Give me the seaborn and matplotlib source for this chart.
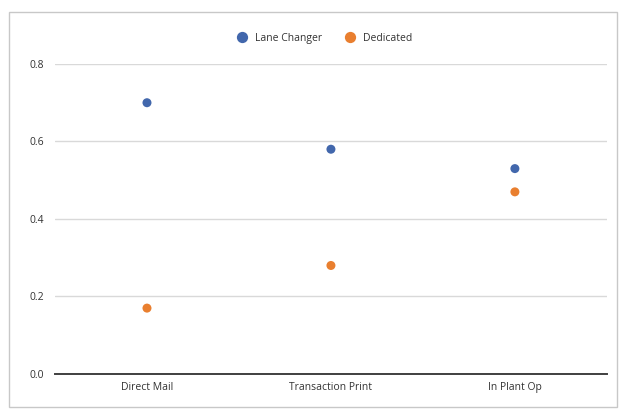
import matplotlib
matplotlib.use("Agg")
import matplotlib.pyplot as plt
from matplotlib.patches import Rectangle
import seaborn as sns
import pandas as pd

categories = ["Direct Mail", "Transaction Print", "In Plant Op"]
lane_changer = [0.70, 0.58, 0.53]
dedicated = [0.17, 0.28, 0.47]
series_names = ["Lane Changer", "Dedicated"]
y_ticks = [0.0, 0.2, 0.4, 0.6, 0.8]

df = pd.DataFrame({
    "category": categories * 2,
    "value": lane_changer + dedicated,
    "series": [series_names[0]] * 3 + [series_names[1]] * 3,
})

sns.set_theme(style="white")
plt.rcParams["font.family"] = ["Open Sans", "DejaVu Sans"]

fig = plt.figure(figsize=(6.25, 4.09), dpi=100)
ax = fig.add_axes([0.088, 0.0856, 0.883, 0.758])

palette = {"Lane Changer": "#4267AC", "Dedicated": "#E97F2F"}
sns.scatterplot(data=df, x="category", y="value", hue="series", palette=palette,
                s=42, edgecolor="none", ax=ax, zorder=3)

ax.set_xlim(-0.5, 2.5)
ax.set_ylim(0, 0.8)
ax.set_yticks(y_ticks)
ax.set_yticklabels([f"{t:.1f}" for t in y_ticks])
ax.set_xlabel("")
ax.set_ylabel("")
ax.grid(axis="y", color="#d9d9d9", linewidth=1.0)
ax.set_axisbelow(True)
for side in ["top", "right", "left"]:
    ax.spines[side].set_visible(False)
ax.spines["bottom"].set_color("#404040")
ax.spines["bottom"].set_linewidth(1.4)
ax.tick_params(axis="both", length=0, labelsize=7.5, labelcolor="#333333", pad=6)
ax.tick_params(axis="y", pad=8)

handles, labels = ax.get_legend_handles_labels()
ax.legend_.remove()
fig.legend(handles, labels, loc="center", bbox_to_anchor=(0.515, 0.907), ncol=2,
           frameon=False, fontsize=7.5, handletextpad=0.3, columnspacing=1.6,
           markerscale=1.25, labelcolor="#333333")

# light frame around the chart area
fig.patches.append(Rectangle((9 / 625, 2 / 409), 608 / 625, 395 / 409,
                             transform=fig.transFigure, fill=False,
                             edgecolor="#c8c8c8", linewidth=1.0))

fig.savefig("out.png", dpi=100, facecolor="white")
